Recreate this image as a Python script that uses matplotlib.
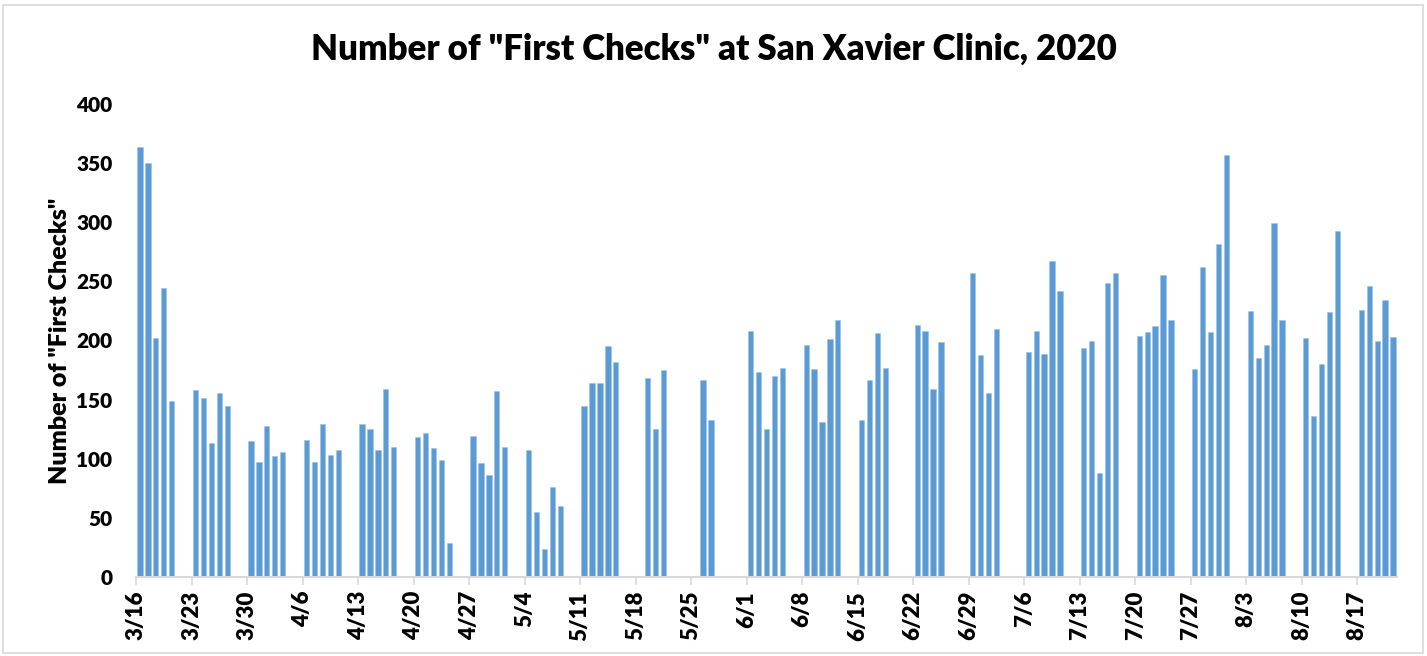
import pandas as pd
from matplotlib import pyplot as plt
from matplotlib.patches import Rectangle

plt.rcParams['font.family'] = ['Lato', 'DejaVu Sans']

# daily counts (weekdays only, holidays missing)
dates = ['3/16', '3/17', '3/18', '3/19', '3/20',
         '3/23', '3/24', '3/25', '3/26', '3/27',
         '3/30', '3/31', '4/1', '4/2', '4/3',
         '4/6', '4/7', '4/8', '4/9', '4/10',
         '4/13', '4/14', '4/15', '4/16', '4/17',
         '4/20', '4/21', '4/22', '4/23', '4/24',
         '4/27', '4/28', '4/29', '4/30', '5/1',
         '5/4', '5/5', '5/6', '5/7', '5/8',
         '5/11', '5/12', '5/13', '5/14', '5/15',
         '5/19', '5/20', '5/21',
         '5/26', '5/27',
         '6/1', '6/2', '6/3', '6/4', '6/5',
         '6/8', '6/9', '6/10', '6/11', '6/12',
         '6/15', '6/16', '6/17', '6/18',
         '6/22', '6/23', '6/24', '6/25',
         '6/29', '6/30', '7/1', '7/2',
         '7/6', '7/7', '7/8', '7/9', '7/10',
         '7/13', '7/14', '7/15', '7/16', '7/17',
         '7/20', '7/21', '7/22', '7/23', '7/24',
         '7/27', '7/28', '7/29', '7/30', '7/31',
         '8/3', '8/4', '8/5', '8/6', '8/7',
         '8/10', '8/11', '8/12', '8/13', '8/14',
         '8/17', '8/18', '8/19', '8/20', '8/21']
checks = [364, 350, 202, 244, 149,
          158, 151, 113, 156, 145,
          115, 97, 128, 102, 106,
          116, 97, 129, 103, 107,
          129, 125, 107, 159, 110,
          118, 122, 109, 99, 29,
          119, 96, 86, 157, 110,
          107, 55, 24, 76, 60,
          145, 164, 164, 195, 182,
          168, 125, 175,
          167, 133,
          208, 173, 125, 170, 177,
          196, 176, 131, 201, 217,
          133, 167, 206, 177,
          213, 208, 159, 199,
          257, 188, 156, 210,
          190, 208, 189, 267, 242,
          194, 200, 88, 249, 257,
          204, 207, 212, 255, 217,
          176, 262, 207, 282, 357,
          225, 185, 196, 299, 217,
          202, 136, 180, 224, 293,
          226, 246, 200, 234, 203]
tick_labels = ['3/16', '3/23', '3/30', '4/6', '4/13', '4/20', '4/27', '5/4',
               '5/11', '5/18', '5/25', '6/1', '6/8', '6/15', '6/22', '6/29',
               '7/6', '7/13', '7/20', '7/27', '8/3', '8/10', '8/17']
last_day = '8/21'

start = pd.Timestamp('2020-03-16')
def day_num(s):
    return (pd.to_datetime('2020/' + s, format='%Y/%m/%d') - start).days

x = [day_num(d) + 0.5 for d in dates]
ticks = [day_num(t) for t in tick_labels]

fig = plt.figure(figsize=(14.27, 6.56), dpi=100)
ax = fig.add_axes([136 / 1427, 79 / 656, 1261 / 1427, 473 / 656])

ax.bar(x, checks, width=0.66, color='#5B9BD5', edgecolor='#9DC3E6', linewidth=0.4)

ax.set_xlim(0, day_num(last_day) + 1)
ax.set_ylim(0, 400)
ax.set_yticks(range(0, 401, 50))
ax.set_xticks(ticks)
ax.set_xticklabels(tick_labels, rotation=90, fontsize=16, fontweight='heavy')
for lbl in ax.get_yticklabels():
    lbl.set_fontsize(15)
    lbl.set_fontweight('heavy')
ax.tick_params(axis='y', length=0, pad=17)
ax.tick_params(axis='x', length=6, width=1.2, color='#D9D9D9', pad=4)

for side in ['top', 'right', 'left']:
    ax.spines[side].set_visible(False)
ax.spines['bottom'].set_color('#D9D9D9')
ax.spines['bottom'].set_linewidth(1.5)

ax.set_ylabel('Number of "First Checks"', fontsize=18, fontweight='heavy', labelpad=4)
fig.text(0.5, 0.925, 'Number of "First Checks" at San Xavier Clinic, 2020',
         ha='center', va='center', fontsize=25, fontweight='heavy')

# chart border
fig.patches.append(Rectangle((0.002, 0.004), 0.995, 0.988, transform=fig.transFigure,
                             fill=False, edgecolor='#D9D9D9', linewidth=1.2))

plt.savefig('out.png', dpi=100)
